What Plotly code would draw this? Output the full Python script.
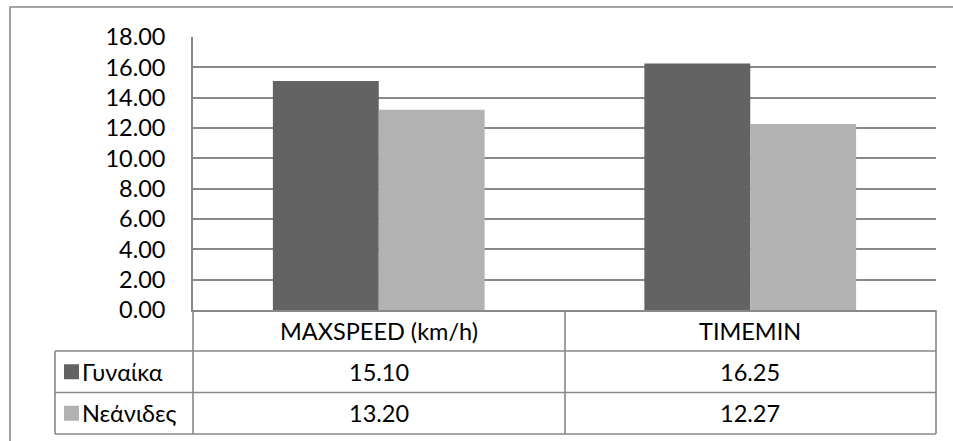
import plotly.graph_objects as go

categories = ["MAXSPEED (km/h)", "TIMEMIN"]
series_names = ["Γυναίκα", "Νεάνιδες"]
gynaika = [15.10, 16.25]
neanides = [13.20, 12.27]
series_values = [gynaika, neanides]
series_colors = ["#636363", "#b2b2b2"]
y_ticks = [0, 2, 4, 6, 8, 10, 12, 14, 16, 18]
y_tick_labels = [f"{v:.2f}" for v in y_ticks]

FONT = "Lato, 'Open Sans', sans-serif"
FS = 23.5
LINE = "#888888"

W, H = 953, 441
L, R, T, B = 193, 17, 37, 131
PW, PH = W - L - R, H - T - B


def px(x):
    return (x - L) / PW


def py(y):
    return (H - B - y) / PH


fig = go.Figure()
for name, vals, col in zip(series_names, series_values, series_colors):
    fig.add_trace(go.Bar(
        x=categories, y=vals, name=name,
        marker=dict(color=col, line=dict(width=0)),
        showlegend=False, hoverinfo="x+y+name",
    ))

shapes = []


def hline(y, x0, x1):
    shapes.append(dict(type="line", xref="paper", yref="paper",
                       x0=px(x0), x1=px(x1), y0=py(y), y1=py(y),
                       line=dict(color=LINE, width=1.6)))


def vline(x, y0, y1):
    shapes.append(dict(type="line", xref="paper", yref="paper",
                       x0=px(x), x1=px(x), y0=py(y0), y1=py(y1),
                       line=dict(color=LINE, width=1.6)))


# outer chart frame
shapes.append(dict(type="rect", xref="paper", yref="paper",
                   x0=px(10), x1=px(990), y0=py(7), y1=py(480),
                   line=dict(color=LINE, width=1.6), fillcolor="rgba(0,0,0,0)"))

# data table grid
row_edges = [310, 351, 392.5, 434]
col_mid = 565
left_edge, right_edge = 55, 936
hline(row_edges[1], left_edge, right_edge)
hline(row_edges[2], left_edge, right_edge)
hline(row_edges[3], left_edge, right_edge)
vline(left_edge, row_edges[1], row_edges[3])
vline(L, row_edges[0], row_edges[3])
vline(col_mid, row_edges[0], row_edges[3])
vline(right_edge, row_edges[0], row_edges[3])

annotations = []
# header row: category names
hdr_y = py((row_edges[0] + row_edges[1]) / 2)
for c in categories:
    annotations.append(dict(x=c, y=hdr_y, xref="x", yref="paper", text=c,
                            showarrow=False, font=dict(size=FS, color="#000"),
                            xanchor="center", yanchor="middle"))

# series rows: legend key, name and values
for i, (name, vals, col) in enumerate(zip(series_names, series_values, series_colors)):
    y0, y1 = row_edges[i + 1], row_edges[i + 2]
    yc = (y0 + y1) / 2
    shapes.append(dict(type="rect", xref="paper", yref="paper",
                       x0=px(64), x1=px(79), y0=py(yc - 7.5), y1=py(yc + 7.5),
                       line=dict(width=0), fillcolor=col))
    annotations.append(dict(x=px(80), y=py(yc), xref="paper", yref="paper",
                            text=name, showarrow=False,
                            font=dict(size=FS, color="#000"),
                            xanchor="left", yanchor="middle"))
    for c, v in zip(categories, vals):
        annotations.append(dict(x=c, y=py(yc), xref="x", yref="paper",
                                text=f"{v:.2f}", showarrow=False,
                                font=dict(size=FS, color="#000"),
                                xanchor="center", yanchor="middle"))

fig.update_layout(
    width=W, height=H,
    margin=dict(l=L, r=R, t=T, b=B, pad=0),
    paper_bgcolor="white", plot_bgcolor="white",
    font=dict(family=FONT, size=FS, color="#000"),
    barmode="group", bargap=0.43, bargroupgap=0,
    shapes=shapes, annotations=annotations,
    xaxis=dict(showticklabels=False, showgrid=False, zeroline=False,
               showline=True, linecolor=LINE, linewidth=1.6,
               ticks="", fixedrange=True),
    yaxis=dict(range=[0, 18], tickvals=y_ticks, ticktext=y_tick_labels,
               showgrid=True, gridcolor=LINE, gridwidth=1.6,
               zeroline=False, showline=True, linecolor=LINE, linewidth=1.6,
               ticks="", ticklabelstandoff=21,
               tickfont=dict(size=FS, color="#000"), fixedrange=True),
)

fig.write_html("out.html")
